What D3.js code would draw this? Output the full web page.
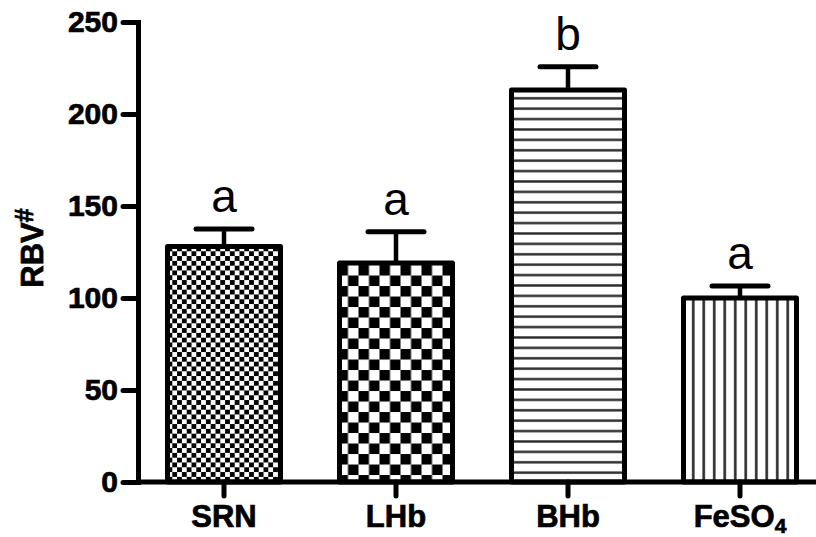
<!DOCTYPE html>
<html>
<head>
<meta charset="utf-8">
<script src="https://cdn.jsdelivr.net/npm/d3@7"></script>
<style>
  body { margin: 0; background: #fff; }
  svg { display: block; font-family: Arial, "Liberation Sans", sans-serif; }
</style>
</head>
<body>
<svg id="chart" width="816" height="537"></svg>
<script>
//  data
const groups = ["SRN", "LHb", "BHb", "FeSO4"];
const means = [128, 119, 213, 100];
const errors = [9.5, 17, 12.7, 6.5];
const letters = ["a", "a", "b", "a"];
const yTicks = [0, 50, 100, 150, 200, 250];

const w = 816, h = 537;
const svg = d3.select("#chart");

const x = d3.scaleBand().domain(groups).range([138, 826]).paddingInner(0.343).paddingOuter(0.1715);
const y = d3.scaleLinear().domain([0, 250]).range([482, 22]);

//  fill patterns
const defs = svg.append("defs");

function checker(id, c, x0, y0) {
  const p = defs.append("pattern")
    .attr("id", id)
    .attr("patternUnits", "userSpaceOnUse")
    .attr("width", 2 * c)
    .attr("height", 2 * c)
    .attr("patternTransform", `translate(${x0},${y0})`);
  p.append("rect").attr("width", 2 * c).attr("height", 2 * c).attr("fill", "#fff");
  p.append("rect").attr("width", c).attr("height", c).attr("fill", "#000");
  p.append("rect").attr("x", c).attr("y", c).attr("width", c).attr("height", c).attr("fill", "#000");
}

function stripes(id, gap, vertical, x0, y0) {
  const p = defs.append("pattern")
    .attr("id", id)
    .attr("patternUnits", "userSpaceOnUse")
    .attr("width", gap)
    .attr("height", gap)
    .attr("patternTransform", `translate(${x0},${y0})`);
  p.append("rect").attr("width", gap).attr("height", gap).attr("fill", "#fff");
  if (vertical)
    p.append("line").attr("x1", gap / 2).attr("x2", gap / 2).attr("y1", 0).attr("y2", gap)
      .attr("stroke", "#2a2a2a").attr("stroke-width", 2.6);
  else
    p.append("line").attr("y1", gap / 2).attr("y2", gap / 2).attr("x1", 0).attr("x2", gap)
      .attr("stroke", "#2a2a2a").attr("stroke-width", 2.4);
}

checker("pat-SRN", 4.8, x("SRN"), y(means[0]));
checker("pat-LHb", 10.5, x("LHb") - 2, y(means[1]) + 2);
stripes("pat-BHb", 10.4, false, x("BHb"), y(means[2]) + 3);
stripes("pat-FeSO4", 10.5, true, x("FeSO4") + 15, y(means[3]));

//  bars
groups.forEach((g, i) => {
  svg.append("rect")
    .attr("x", x(g))
    .attr("y", y(means[i]))
    .attr("width", x.bandwidth())
    .attr("height", y(0) - y(means[i]))
    .attr("fill", `url(#pat-${g})`)
    .attr("stroke", "#000")
    .attr("stroke-width", 5)
    .attr("stroke-linejoin", "round");

  const cx = x(g) + x.bandwidth() / 2;
  const top = y(means[i] + errors[i]);

  //  error bar
  svg.append("line")
    .attr("x1", cx).attr("x2", cx)
    .attr("y1", y(means[i])).attr("y2", top)
    .attr("stroke", "#000")
    .attr("stroke-width", 4.5);

  svg.append("line")
    .attr("x1", cx - 28).attr("x2", cx + 28)
    .attr("y1", top).attr("y2", top)
    .attr("stroke", "#000")
    .attr("stroke-width", 5)
    .attr("stroke-linecap", "round");

  svg.append("text")
    .attr("x", cx)
    .attr("y", top - 17)
    .attr("text-anchor", "middle")
    .style("font-size", "46px")
    .text(letters[i]);
});

//  y axis
const yAxis = svg.append("g")
  .attr("transform", "translate(138,0)")
  .call(d3.axisLeft(y).tickValues(yTicks).tickSize(15).tickSizeOuter(0).tickPadding(5));

yAxis.select(".domain").attr("stroke-width", 5).attr("stroke-linecap", "square");
yAxis.selectAll(".tick line").attr("stroke-width", 5).attr("stroke-linecap", "round");
yAxis.selectAll(".tick text")
  .style("font-size", "30px")
  .style("font-weight", "bold")
  .style("font-family", "Arial, 'Liberation Sans', sans-serif")
  .attr("fill", "#000")
  .attr("stroke", "#000")
  .attr("stroke-width", 0.7);

//  x axis
svg.append("line")
  .attr("x1", 136).attr("x2", w)
  .attr("y1", y(0)).attr("y2", y(0))
  .attr("stroke", "#000")
  .attr("stroke-width", 5);

groups.forEach((g) => {
  const cx = x(g) + x.bandwidth() / 2;
  svg.append("line")
    .attr("x1", cx).attr("x2", cx)
    .attr("y1", y(0)).attr("y2", y(0) + 14)
    .attr("stroke", "#000")
    .attr("stroke-width", 5)
    .attr("stroke-linecap", "round");

  const t = svg.append("text")
    .attr("x", cx)
    .attr("y", 527)
    .attr("text-anchor", "middle")
    .style("font-size", "31px")
    .style("font-weight", "bold")
    .attr("stroke", "#000")
    .attr("stroke-width", 0.7);

  if (g == "FeSO4") {
    t.append("tspan").text("FeSO");
    t.append("tspan").attr("dy", 6).style("font-size", "21px").text("4");
  } else {
    t.text(g);
  }
});

//  y title
const title = svg.append("text")
  .attr("transform", "translate(43,248) rotate(-90)")
  .attr("text-anchor", "middle")
  .style("font-size", "31px")
  .style("font-weight", "bold")
  .attr("stroke", "#000")
  .attr("stroke-width", 0.7);
title.append("tspan").text("RBV");
title.append("tspan").attr("dy", -10).style("font-size", "25px").text("#");
</script>
</body>
</html>
